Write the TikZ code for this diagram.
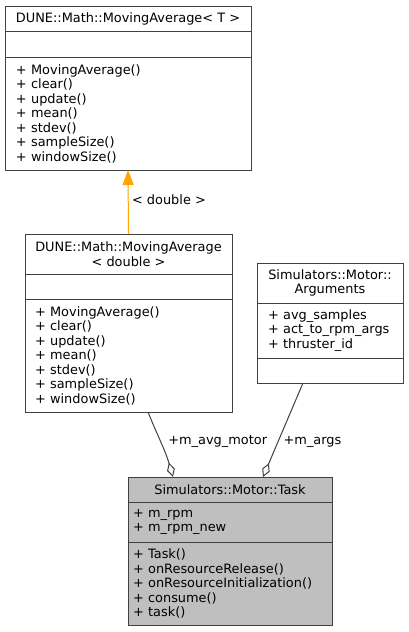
\documentclass[tikz,border=0pt]{standalone}
\usepackage{fontspec}
\setmainfont{DejaVu Sans}
\usetikzlibrary{arrows.meta,positioning,calc}
\definecolor{edgegray}{RGB}{64,64,64}
\definecolor{taskgray}{RGB}{191,191,191}
\definecolor{inhorange}{RGB}{255,165,0}
\newcommand{\umlfont}{\fontsize{12.9}{14.5}\selectfont}
\tikzset{
  part/.style={draw=edgegray,line width=1pt,outer sep=0pt,inner ysep=0pt,font=\umlfont},
  titlepart/.style={part,align=center,inner xsep=0pt},
  listpart/.style={part,align=left},
  inhline/.style={draw=inhorange,line width=1pt,-{Triangle[length=15pt,width=11pt,fill=inhorange]}},
  aggline/.style={draw=edgegray,line width=1pt,-{Diamond[open,length=15pt,width=8pt,fill=white]}},
}

\begin{document}
\begin{tikzpicture}[x=1pt,y=-1pt]
		\useasboundingbox (0,0) rectangle (408,632);
		% DUNE::Math::MovingAverage< T >
		\node[titlepart,anchor=north west,minimum width=246pt,minimum height=25pt] (avgT-title) at (5,6) {DUNE::Math::MovingAverage< T >};
		\node[part,below=0pt of avgT-title,minimum width=246pt,minimum height=26pt] (avgT-attr) {};
		\node[listpart,below=0pt of avgT-attr,text width=224pt,inner xsep=11pt,minimum height=113pt] (avgT-ops)
			{+~MovingAverage()\\+~clear()\\+~update()\\+~mean()\\+~stdev()\\+~sampleSize()\\+~windowSize()};
		% DUNE::Math::MovingAverage< double >
		\node[titlepart,anchor=north west,minimum width=207pt,minimum height=40pt] (avgD-title) at (25,234) {DUNE::Math::MovingAverage\\< double >};
		\node[part,below=0pt of avgD-title,minimum width=207pt,minimum height=25pt] (avgD-attr) {};
		\node[listpart,below=0pt of avgD-attr,text width=187pt,inner xsep=10pt,minimum height=113pt] (avgD-ops)
			{+~MovingAverage()\\+~clear()\\+~update()\\+~mean()\\+~stdev()\\+~sampleSize()\\+~windowSize()};
		% Simulators::Motor::Arguments
		\node[titlepart,anchor=north west,minimum width=146pt,minimum height=40pt] (args-title) at (257,263) {Simulators::Motor::\\Arguments};
		\node[listpart,below=0pt of args-title,text width=124pt,inner xsep=11pt,minimum height=55pt] (args-attr)
			{+~avg\_samples\\+~act\_to\_rpm\_args\\+~thruster\_id};
		\node[part,below=0pt of args-attr,minimum width=146pt,minimum height=25pt] (args-ops) {};
		% Simulators::Motor::Task
		\node[titlepart,fill=taskgray,anchor=north west,minimum width=204pt,minimum height=25pt] (task-title) at (128,477) {Simulators::Motor::Task};
		\node[listpart,fill=taskgray,below=0pt of task-title,text width=194pt,inner xsep=5pt,minimum height=40pt] (task-attr)
			{+~m\_rpm\\+~m\_rpm\_new};
		\node[listpart,fill=taskgray,below=0pt of task-attr,text width=194pt,inner xsep=5pt,minimum height=83pt] (task-ops)
			{+~Task()\\+~onResourceRelease()\\+~onResourceInitialization()\\+~consume()\\+~task()};
		% relations
		\draw[inhline] (avgD-title.north) -- node[right,pos=0.53,font=\umlfont] {< double >} (avgT-ops.south);
		\draw[aggline] ($(avgD-ops.south)+(19.5,0)$) to[out=-68,in=106]
			node[right=4pt,pos=0.46,font=\umlfont] {+m\_avg\_motor} ($(task-title.north)+(-57,0)$);
		\draw[aggline] ($(args-ops.south)+(-27,0)$) --
			node[right=2pt,pos=0.63,font=\umlfont] {+m\_args} ($(task-title.north)+(33,0)$);
\end{tikzpicture}
\end{document}
